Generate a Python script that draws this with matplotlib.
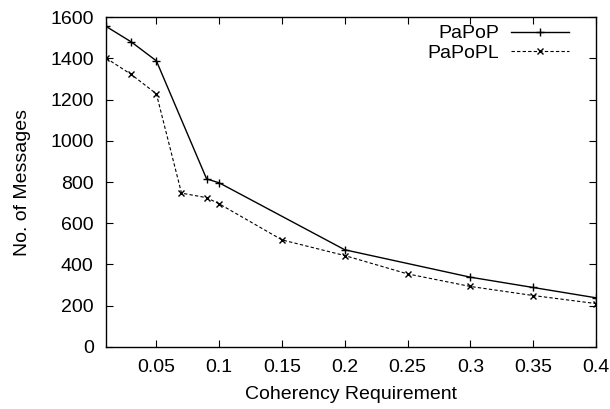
import matplotlib.pyplot as plt

plt.rcParams['font.family'] = ['Liberation Sans', 'DejaVu Sans']
plt.rcParams['font.size'] = 14

# PaPoP series
papop_x = [0.01, 0.03, 0.05, 0.09, 0.1, 0.2, 0.3, 0.35, 0.4]
papop_y = [1555, 1480, 1388, 815, 796, 471, 338, 288, 238]

# PaPoPL series
papopl_x = [0.01, 0.03, 0.05, 0.07, 0.09, 0.1, 0.15, 0.2, 0.25, 0.3, 0.35, 0.4]
papopl_y = [1401, 1322, 1228, 746, 724, 694, 519, 443, 354, 293, 249, 210]

x_ticks = [0.05, 0.1, 0.15, 0.2, 0.25, 0.3, 0.35, 0.4]
x_labels = ['0.05', '0.1', '0.15', '0.2', '0.25', '0.3', '0.35', '0.4']
y_ticks = [0, 200, 400, 600, 800, 1000, 1200, 1400, 1600]

fig = plt.figure(figsize=(6.1, 4.09), dpi=100)
ax = fig.add_axes([0.174, 0.152, 0.803, 0.806])

ax.plot(papop_x, papop_y, color='black', linewidth=1.0, marker='+',
        markersize=6, markeredgewidth=1.0, label='PaPoP')
ax.plot(papopl_x, papopl_y, color='black', linewidth=0.8, linestyle=(0, (3, 2)),
        marker='x', markersize=5, markeredgewidth=1.0, label='PaPoPL')

ax.set_xlim(0.01, 0.4)
ax.set_ylim(0, 1600)
ax.set_xticks(x_ticks)
ax.set_xticklabels(x_labels)
ax.set_yticks(y_ticks)
ax.tick_params(direction='in', top=True, right=True, length=5, width=0.8, pad=9)
for s in ax.spines.values():
    s.set_linewidth(1.0)

ax.set_xlabel('Coherency Requirement', labelpad=7)
ax.set_ylabel('No. of Messages', labelpad=14)

ax.legend(loc='upper right', frameon=False, markerfirst=False, handlelength=3.0,
          fontsize=14, bbox_to_anchor=(0.975, 1.02), borderaxespad=0.35,
          labelspacing=0.12, handletextpad=0.6, handleheight=0.5)

fig.savefig('out.png', dpi=100)
